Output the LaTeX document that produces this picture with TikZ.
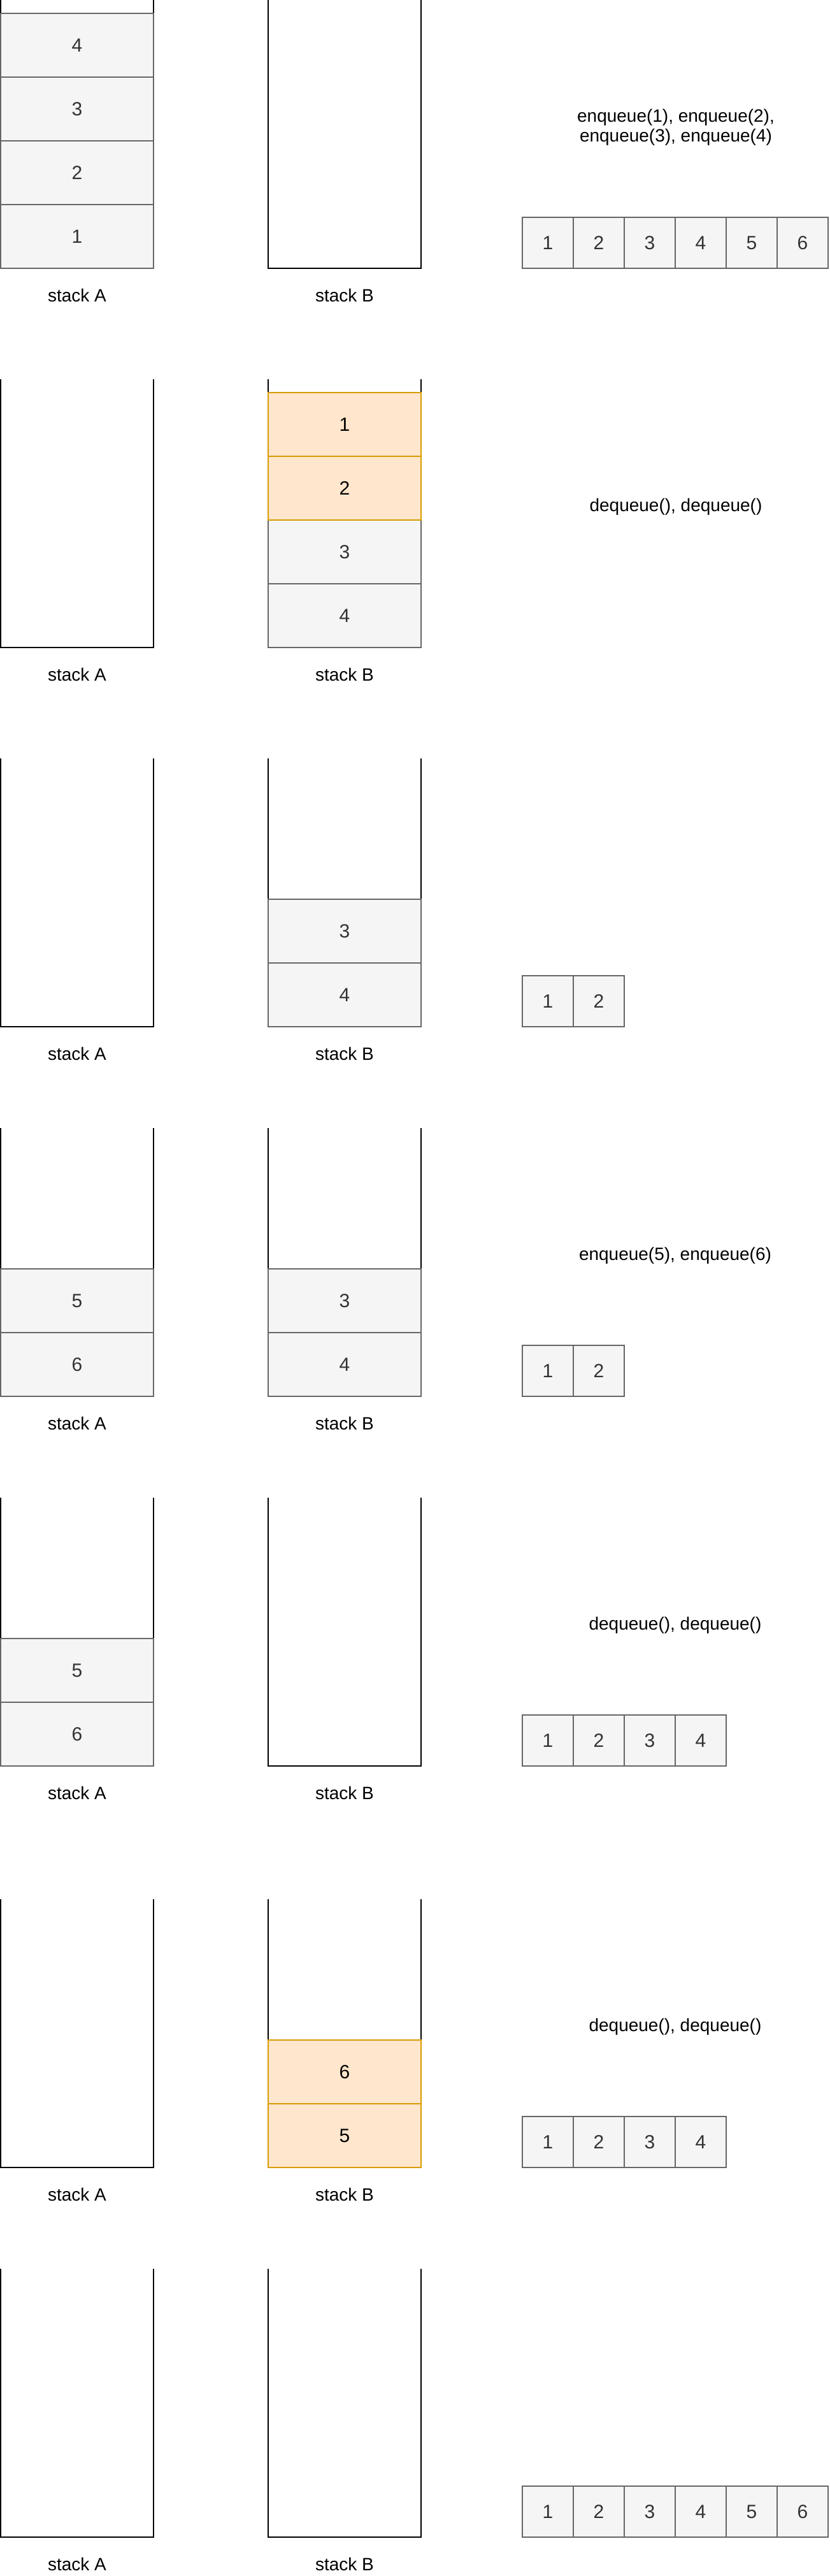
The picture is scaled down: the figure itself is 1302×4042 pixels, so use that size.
\documentclass[tikz,border=0pt]{standalone}
\usepackage{fontspec}
\setmainfont{Liberation Sans}
\definecolor{gfill}{HTML}{F5F5F5}
\definecolor{gline}{HTML}{666666}
\definecolor{gtext}{HTML}{333333}
\definecolor{ofill}{HTML}{FFE6CC}
\definecolor{oline}{HTML}{D79B00}
\newcommand\txtA{\fontsize{28}{31}\selectfont}
\newcommand\txtC{\fontsize{30}{34}\selectfont}
\tikzset{
  wall/.style={draw=black, line width=1.75pt},
  scell/.style={rectangle, draw=gline, fill=gfill, text=gtext, line width=1.75pt, minimum width=240pt, minimum height=100pt, inner sep=0pt, font=\txtC},
  ocell/.style={rectangle, draw=oline, fill=ofill, text=black, line width=1.75pt, minimum width=240pt, minimum height=100pt, inner sep=0pt, font=\txtC},
  qcell/.style={rectangle, draw=gline, fill=gfill, text=gtext, line width=1.75pt, minimum width=80pt, minimum height=80pt, inner sep=0pt, font=\txtC},
  lbl/.style={inner sep=0pt, font=\txtA, text=black},
  op/.style={inner sep=0pt, font=\txtA, text=black, align=center}
}
% stack walls: name, left x, bottom y
\newcommand\stackwalls[3]{%
  \coordinate (#1tl) at (#2,#3-421);
  \coordinate (#1bl) at (#2,#3);
  \coordinate (#1br) at (#2+240,#3);
  \coordinate (#1tr) at (#2+240,#3-421);
  \draw[wall] (#1tl) -- (#1bl) -- (#1br) -- (#1tr);
}
% labels under a panel: prefix, bottom y
\newcommand\stacklabels[2]{%
  \node[lbl] (#1la) at (121,#2+42) {stack A};
  \node[lbl] (#1lb) at (541,#2+42) {stack B};
}
% queue cell: name, index (0-based), bottom y, text
\newcommand\qcell[4]{\node[qcell] (#1) at (860+80*#2,#3-40) {#4};}
% stack cell: name, style, x center, bottom y, level (0-based), text
\newcommand\stkcell[6]{\node[#2] (#1) at (#3,#4-50-100*#5) {#6};}
\begin{document}
\begin{tikzpicture}[x=1pt,y=-1pt]
\useasboundingbox (0,0) rectangle (1302,4042);
\fill[white] (0,0) rectangle (1302,4042);

% ---------- Panel 1 (bottom 421) ----------
\stackwalls{p1A}{1}{421}
\stackwalls{p1B}{421}{421}
\stkcell{p1a1}{scell}{121}{421}{0}{1}
\stkcell{p1a2}{scell}{121}{421}{1}{2}
\stkcell{p1a3}{scell}{121}{421}{2}{3}
\stkcell{p1a4}{scell}{121}{421}{3}{4}
\stacklabels{p1}{421}
\node[op] (p1op) at (1061,200) {enqueue(1), enqueue(2),\\enqueue(3), enqueue(4)};
\qcell{p1q1}{0}{421}{1}
\qcell{p1q2}{1}{421}{2}
\qcell{p1q3}{2}{421}{3}
\qcell{p1q4}{3}{421}{4}
\qcell{p1q5}{4}{421}{5}
\qcell{p1q6}{5}{421}{6}

% ---------- Panel 2 (bottom 1016) ----------
\stackwalls{p2A}{1}{1016}
\stackwalls{p2B}{421}{1016}
\stkcell{p2b4}{scell}{541}{1016}{0}{4}
\stkcell{p2b3}{scell}{541}{1016}{1}{3}
\stkcell{p2b2}{ocell}{541}{1016}{2}{2}
\stkcell{p2b1}{ocell}{541}{1016}{3}{1}
\stacklabels{p2}{1016}
\node[op] (p2op) at (1061,795) {dequeue(), dequeue()};

% ---------- Panel 3 (bottom 1611) ----------
\stackwalls{p3A}{1}{1611}
\stackwalls{p3B}{421}{1611}
\stkcell{p3b4}{scell}{541}{1611}{0}{4}
\stkcell{p3b3}{scell}{541}{1611}{1}{3}
\stacklabels{p3}{1611}
\qcell{p3q1}{0}{1611}{1}
\qcell{p3q2}{1}{1611}{2}

% ---------- Panel 4 (bottom 2191) ----------
\stackwalls{p4A}{1}{2191}
\stackwalls{p4B}{421}{2191}
\stkcell{p4a6}{scell}{121}{2191}{0}{6}
\stkcell{p4a5}{scell}{121}{2191}{1}{5}
\stkcell{p4b4}{scell}{541}{2191}{0}{4}
\stkcell{p4b3}{scell}{541}{2191}{1}{3}
\stacklabels{p4}{2191}
\node[op] (p4op) at (1060,1970) {enqueue(5), enqueue(6)};
\qcell{p4q1}{0}{2191}{1}
\qcell{p4q2}{1}{2191}{2}

% ---------- Panel 5 (bottom 2771) ----------
\stackwalls{p5A}{1}{2771}
\stackwalls{p5B}{421}{2771}
\stkcell{p5a6}{scell}{121}{2771}{0}{6}
\stkcell{p5a5}{scell}{121}{2771}{1}{5}
\stacklabels{p5}{2771}
\node[op] (p5op) at (1060,2550) {dequeue(), dequeue()};
\qcell{p5q1}{0}{2771}{1}
\qcell{p5q2}{1}{2771}{2}
\qcell{p5q3}{2}{2771}{3}
\qcell{p5q4}{3}{2771}{4}

% ---------- Panel 6 (bottom 3401) ----------
\stackwalls{p6A}{1}{3401}
\stackwalls{p6B}{421}{3401}
\stkcell{p6b5}{ocell}{541}{3401}{0}{5}
\stkcell{p6b6}{ocell}{541}{3401}{1}{6}
\stacklabels{p6}{3401}
\node[op] (p6op) at (1060,3180) {dequeue(), dequeue()};
\qcell{p6q1}{0}{3401}{1}
\qcell{p6q2}{1}{3401}{2}
\qcell{p6q3}{2}{3401}{3}
\qcell{p6q4}{3}{3401}{4}

% ---------- Panel 7 (bottom 3981) ----------
\stackwalls{p7A}{1}{3981}
\stackwalls{p7B}{421}{3981}
\stacklabels{p7}{3981}
\qcell{p7q1}{0}{3981}{1}
\qcell{p7q2}{1}{3981}{2}
\qcell{p7q3}{2}{3981}{3}
\qcell{p7q4}{3}{3981}{4}
\qcell{p7q5}{4}{3981}{5}
\qcell{p7q6}{5}{3981}{6}
\end{tikzpicture}
\end{document}
